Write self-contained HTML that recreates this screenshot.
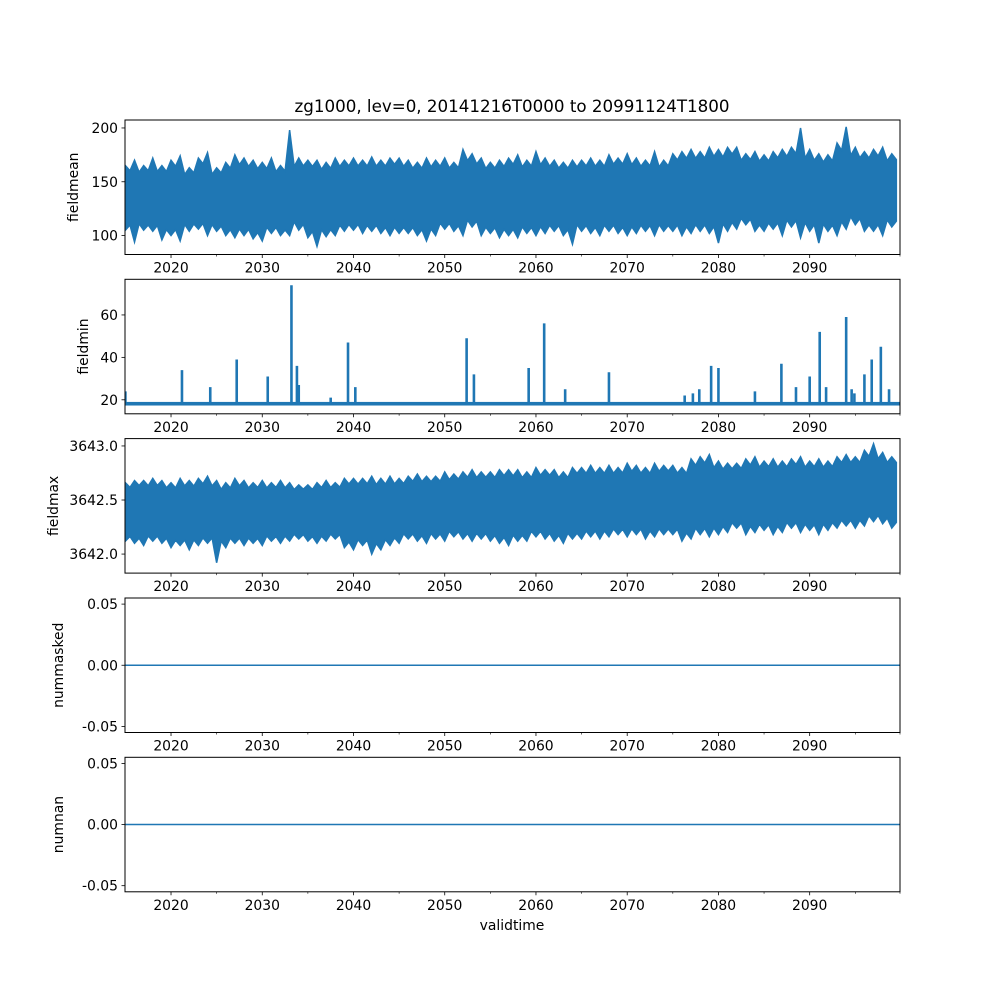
<!DOCTYPE html>
<html><head><meta charset="utf-8"><style>
body{margin:0;background:#fff}
svg text{font-family:"DejaVu Sans","Liberation Sans",sans-serif;fill:#000}
</style></head><body>
<svg id="fig" width="1000" height="1000" viewBox="0 0 1000 1000" xmlns="http://www.w3.org/2000/svg">
<rect width="1000" height="1000" fill="#fff"/>
<text x="512" y="112" font-size="16.7" text-anchor="middle">zg1000, lev=0, 20141216T0000 to 20991124T1800</text>
<text x="512" y="930" font-size="13.9" text-anchor="middle">validtime</text>
</svg>
<script>
const years=[];for(let y=2015;y<=2099;y++)years.push(y);
const meanMax=[165,170,165,172,165,170,174,163,172,177,163,168,175,172,170,168,172,165,198,172,170,170,168,172,170,172,170,173,170,172,172,170,168,172,170,172,168,180,176,172,168,170,172,175,170,178,172,170,168,170,170,172,170,175,172,176,172,170,178,170,176,178,180,178,182,180,182,182,176,178,175,178,180,182,200,180,176,175,186,201,182,178,180,182,176];
const meanMin=[105,94,105,104,96,100,95,104,106,100,104,100,98,100,97,95,102,100,100,105,98,90,99,100,104,105,102,104,102,100,102,102,100,95,100,106,104,100,108,100,102,98,100,98,102,100,102,104,100,92,104,102,100,104,102,100,102,104,100,104,104,100,102,104,102,93,104,106,110,104,104,106,100,108,98,104,93,104,100,106,110,104,104,100,108];
const maxMax=[3642.66,3642.68,3642.68,3642.70,3642.68,3642.66,3642.70,3642.68,3642.70,3642.72,3642.68,3642.66,3642.70,3642.68,3642.66,3642.68,3642.66,3642.68,3642.66,3642.64,3642.64,3642.66,3642.68,3642.66,3642.70,3642.70,3642.70,3642.72,3642.70,3642.72,3642.70,3642.72,3642.74,3642.72,3642.72,3642.76,3642.74,3642.76,3642.78,3642.76,3642.76,3642.78,3642.78,3642.78,3642.76,3642.80,3642.78,3642.78,3642.76,3642.80,3642.80,3642.82,3642.80,3642.82,3642.80,3642.84,3642.82,3642.80,3642.84,3642.82,3642.82,3642.80,3642.88,3642.90,3642.92,3642.86,3642.84,3642.84,3642.88,3642.90,3642.86,3642.88,3642.86,3642.88,3642.90,3642.86,3642.88,3642.86,3642.90,3642.92,3642.90,3642.96,3643.02,3642.94,3642.90];
const maxMin=[3642.12,3642.10,3642.08,3642.12,3642.10,3642.06,3642.08,3642.04,3642.08,3642.10,3641.92,3642.06,3642.10,3642.08,3642.10,3642.08,3642.12,3642.10,3642.12,3642.14,3642.12,3642.10,3642.12,3642.14,3642.06,3642.04,3642.08,3642.00,3642.04,3642.08,3642.10,3642.14,3642.12,3642.10,3642.14,3642.12,3642.16,3642.14,3642.12,3642.14,3642.12,3642.10,3642.08,3642.12,3642.12,3642.16,3642.14,3642.12,3642.10,3642.14,3642.14,3642.16,3642.14,3642.16,3642.18,3642.16,3642.18,3642.14,3642.16,3642.18,3642.18,3642.12,3642.14,3642.18,3642.16,3642.18,3642.20,3642.24,3642.18,3642.20,3642.22,3642.18,3642.20,3642.24,3642.20,3642.22,3642.18,3642.22,3642.24,3642.26,3642.24,3642.26,3642.30,3642.28,3642.24];
const minBaseLow=17.3, minBaseHigh=19.0;
const spikeYears=[2015.0,2021.2,2024.3,2027.2,2030.6,2033.2,2033.8,2034.0,2037.5,2039.4,2040.2,2052.4,2053.2,2059.2,2060.9,2063.2,2068.0,2076.3,2077.2,2077.9,2079.2,2080.0,2084.0,2086.9,2088.5,2090.0,2091.1,2091.8,2094.0,2094.6,2094.9,2096.0,2096.8,2097.8,2098.7];
const spikeValues=[24,34,26,39,31,74,36,27,21,47,26,49,32,35,56,25,33,22,23,25,36,35,24,37,26,31,52,26,59,25,23,32,39,45,25];
const zeroSeries=[0,0];
const xTicks=[2020,2030,2040,2050,2060,2070,2080,2090];
const xMinor=[2025,2035,2045,2055,2065,2075,2085,2095];

const svg=document.getElementById('fig');const NS='http://www.w3.org/2000/svg';
const X0=125,X1=900,T0=2014.956,T1=2099.9;
const xs=t=>X0+(t-T0)/(T1-T0)*(X1-X0);
const C='#1f77b4';
function el(tag,attrs,parent){const e=document.createElementNS(NS,tag);for(const k in attrs)e.setAttribute(k,attrs[k]);(parent||svg).appendChild(e);return e;}
const panels=[
 {name:'fieldmean',top:120,lo:82.4,hi:207.4,ticks:[100,150,200],fmt:v=>String(v)},
 {name:'fieldmin',top:279.3,lo:13.4,hi:76.8,ticks:[20,40,60],fmt:v=>String(v)},
 {name:'fieldmax',top:438.6,lo:3641.824,hi:3643.068,ticks:[3642.0,3642.5,3643.0],fmt:v=>v.toFixed(1)},
 {name:'nummasked',top:598,lo:-0.055,hi:0.055,ticks:[-0.05,0,0.05],fmt:v=>v.toFixed(2)},
 {name:'numnan',top:757.3,lo:-0.055,hi:0.055,ticks:[-0.05,0,0.05],fmt:v=>v.toFixed(2)}];
const H=134.5;
panels.forEach((p,i)=>{
 const g=el('g',{});
 
 
 const ys=v=>p.top+H-(v-p.lo)/(p.hi-p.lo)*H;
 const clipId='clip'+i;
 const cp=el('clipPath',{id:clipId},g);el('rect',{x:X0,y:p.top,width:X1-X0,height:H},cp);
 const dg=el('g',{'clip-path':'url(#'+clipId+')'},g);
 function band(hiArr,loArr,nm){
  let pts=[];
  years.forEach((y,k)=>{const n=hiArr[Math.min(k+1,years.length-1)];const n2=loArr[Math.min(k+1,years.length-1)];
   pts.push(xs(y)+','+ys(hiArr[k]));pts.push(xs(y+0.5)+','+ys(Math.min(hiArr[k],n)-(hiArr[k]-loArr[k])*0.08));});
  for(let k=years.length-1;k>=0;k--){const n2=loArr[Math.min(k+1,years.length-1)];
   pts.push(xs(years[k]+0.5)+','+ys(Math.max(loArr[k],n2)+(hiArr[k]-loArr[k])*0.08));pts.push(xs(years[k])+','+ys(loArr[k]));}
  const pg=el('polygon',{points:pts.join(' '),fill:C,stroke:C,'stroke-width':1.5,'stroke-linejoin':'miter'},dg);
  
  
 }
 if(p.name==='fieldmean')band(meanMax,meanMin,'fieldmean-series');
 if(p.name==='fieldmax')band(maxMax,maxMin,'fieldmax-series');
 if(p.name==='fieldmin'){
  const r=el('rect',{x:X0,y:ys(minBaseHigh),width:X1-X0,height:ys(minBaseLow)-ys(minBaseHigh),fill:C},dg);
  
  
  spikeYears.forEach((t,k)=>{const l=el('line',{x1:xs(t),x2:xs(t),y1:ys(18),y2:ys(spikeValues[k]),stroke:C,'stroke-width':2.6},dg);
   
   });
 }
 if(p.name==='nummasked'||p.name==='numnan'){
  const l=el('line',{x1:X0,x2:X1,y1:ys(zeroSeries[0]),y2:ys(zeroSeries[1]),stroke:C,'stroke-width':1.5},dg);
  
  
 }
 el('rect',{x:X0,y:p.top,width:X1-X0,height:H,fill:'none',stroke:'#000','stroke-width':1},g);
 p.ticks.forEach(v=>{const y=ys(v);el('line',{x1:X0-3.5,x2:X0,y1:y,y2:y,stroke:'#000','stroke-width':0.8},g);
  const t=el('text',{x:X0-7,y:y+5,'font-size':13.9,'text-anchor':'end'},g);t.textContent=p.fmt(v);
  
  });
 const yb=p.top+H;
 xTicks.forEach(v=>{el('line',{x1:xs(v),x2:xs(v),y1:yb,y2:yb+3.5,stroke:'#000','stroke-width':0.8},g);
  const t=el('text',{x:xs(v),y:yb+18,'font-size':13.9,'text-anchor':'middle'},g);t.textContent=v;
  
  });
 xMinor.concat([T1]).forEach(v=>el('line',{x1:xs(v),x2:xs(v),y1:yb,y2:yb+2,stroke:'#000','stroke-width':0.6},g));
 const lx={fieldmean:78,fieldmin:88,fieldmax:58,nummasked:63,numnan:63}[p.name];
 const yl=el('text',{x:lx,y:p.top+H/2,'font-size':13.9,'text-anchor':'middle',transform:'rotate(-90 '+lx+' '+(p.top+H/2)+')'},g);
 yl.textContent=p.name;
 
 
});
</script>
</body></html>
